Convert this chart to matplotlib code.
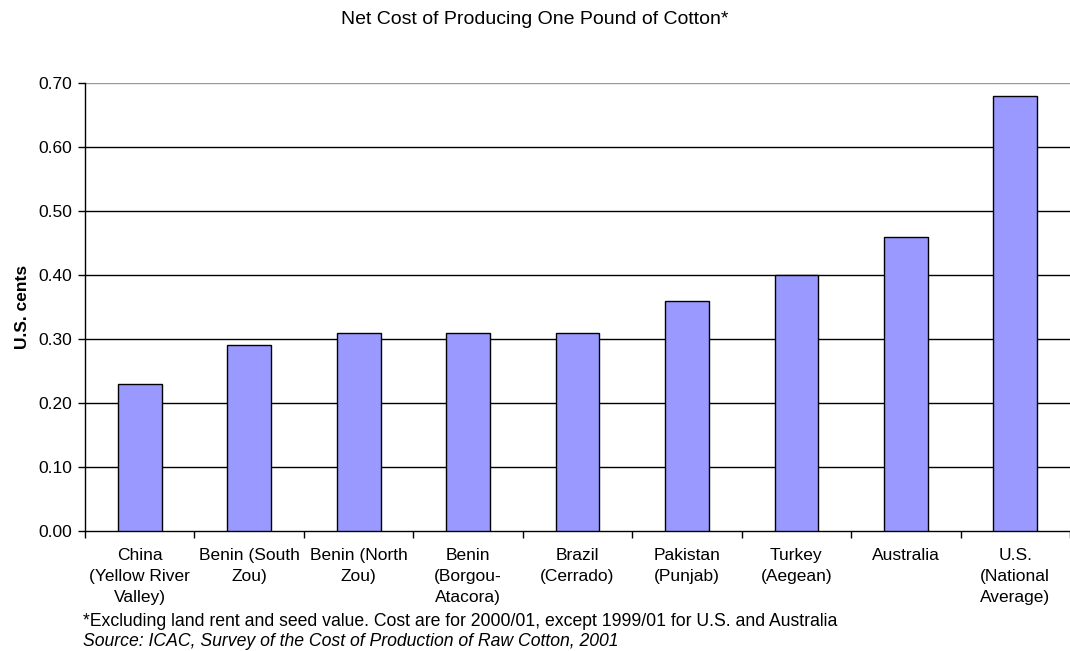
import numpy as np
import matplotlib.pyplot as plt

plt.rcParams['font.family'] = ['Liberation Sans', 'DejaVu Sans']

regions = ["China\n(Yellow River\nValley)", "Benin (South\nZou)", "Benin (North\nZou)",
           "Benin\n(Borgou-\nAtacora)", "Brazil\n(Cerrado)", "Pakistan\n(Punjab)",
           "Turkey\n(Aegean)", "Australia", "U.S.\n(National\nAverage)"]
cost = [0.23, 0.29, 0.31, 0.31, 0.31, 0.36, 0.40, 0.46, 0.68]
yticks = [0.0, 0.1, 0.2, 0.3, 0.4, 0.5, 0.6, 0.7]

fig = plt.figure(figsize=(10.7, 6.51), dpi=100)
ax = fig.add_axes([85 / 1070, 1 - 531 / 651, (1070 - 85) / 1070, (531 - 83) / 651])

x = np.arange(len(cost))
ax.bar(x, cost, width=0.4, color='#9999ff', edgecolor='black', linewidth=1.0, zorder=3)

ax.set_xlim(-0.5, len(cost) - 0.5)
ax.set_ylim(0, 0.7)
ax.set_yticks(yticks)
ax.set_yticklabels([f"{v:.2f}" for v in yticks], fontsize=12.5)
for v in yticks[1:]:
    ax.axhline(v, color='black' if v < 0.7 else '#999999', linewidth=1.0, zorder=1)

# category boundaries get the tick marks, labels sit centred under each bar
ax.set_xticks(np.arange(len(cost) + 1) - 0.5)
ax.set_xticklabels([])
ax.set_xticks(x, minor=True)
ax.set_xticklabels(regions, minor=True, fontsize=12.5, linespacing=1.53)
ax.tick_params(axis='x', which='minor', length=0, pad=12)
ax.tick_params(axis='x', which='major', length=5, width=1, direction='out')
ax.tick_params(axis='y', length=5, width=1, direction='out', pad=4)

for side in ['top', 'right']:
    ax.spines[side].set_visible(False)
ax.spines['left'].set_linewidth(1.0)
ax.spines['bottom'].set_linewidth(1.0)

ax.set_ylabel("U.S. cents", fontsize=12.5, fontweight='bold', labelpad=6)

fig.text(0.5, 1 - 20 / 651, "Net Cost of Producing One Pound of Cotton*",
         ha='center', va='center', fontsize=14)
fig.text(83 / 1070, 1 - 621 / 651,
         "*Excluding land rent and seed value. Cost are for 2000/01, except 1999/01 for U.S. and Australia",
         ha='left', va='center', fontsize=12.7)
fig.text(83 / 1070, 1 - 641 / 651,
         "Source: ICAC, Survey of the Cost of Production of Raw Cotton, 2001",
         ha='left', va='center', fontsize=12.7, style='italic')

fig.savefig("out.png", dpi=100, facecolor='white')
